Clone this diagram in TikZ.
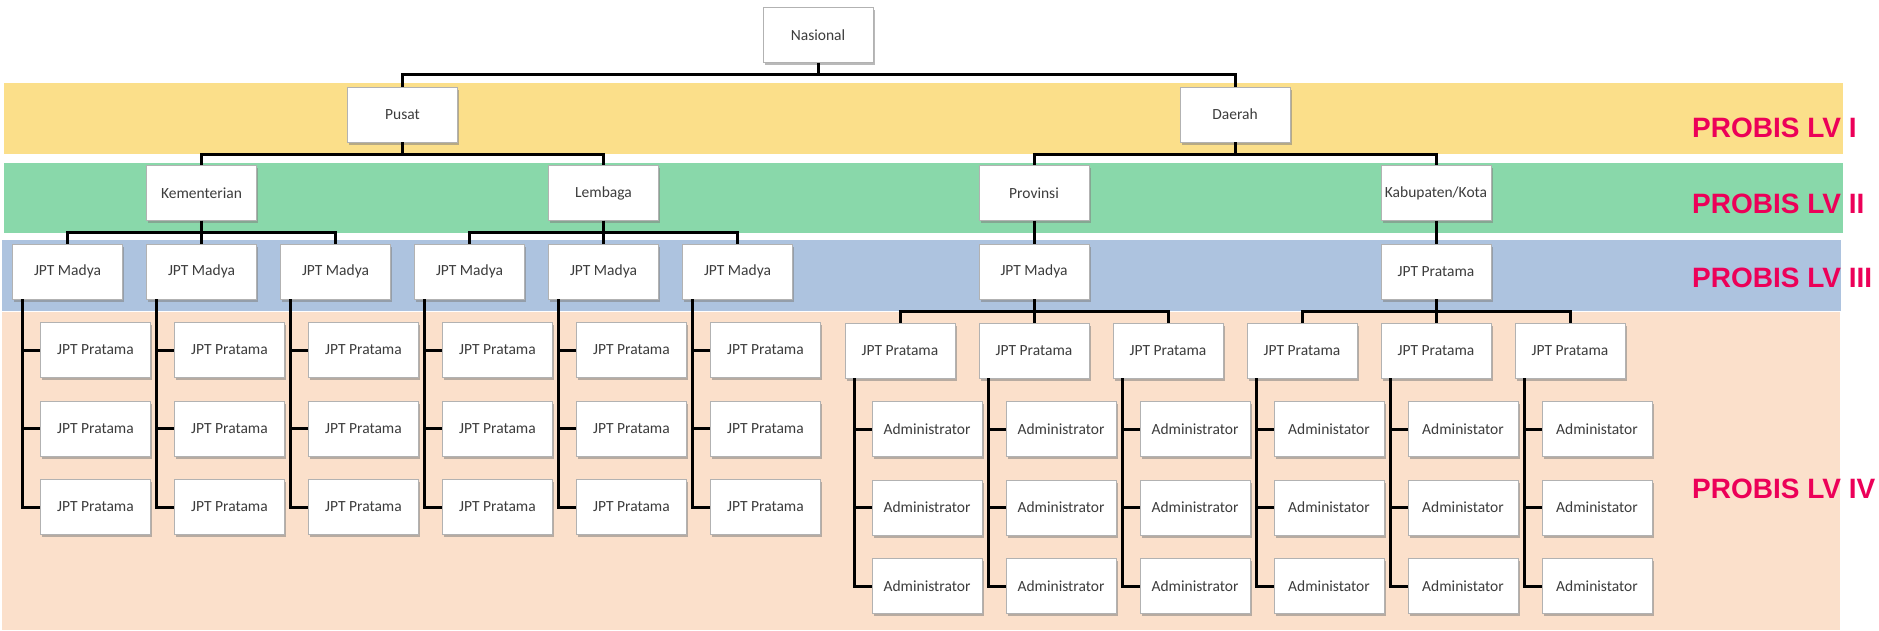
\documentclass[tikz,border=0pt]{standalone}
\usepackage{fontspec}
\usetikzlibrary{shadows}
\newfontfamily\boxfont{Carlito}
\newfontfamily\tagfont{Liberation Sans}
\definecolor{bandyellow}{RGB}{251,223,138}
\definecolor{bandgreen}{RGB}{137,216,170}
\definecolor{bandblue}{RGB}{173,195,223}
\definecolor{bandpeach}{RGB}{251,224,203}
\definecolor{textgray}{RGB}{60,60,60}
\definecolor{tagred}{RGB}{236,0,88}
\begin{document}
\begin{tikzpicture}[x=1pt,y=-1pt,
  unit/.style={rectangle, draw=black!30, line width=0.6pt, fill=white,
    minimum width=110pt, minimum height=55pt, inner sep=0pt,
    font=\boxfont\fontsize{15.5}{18}\selectfont, text=textgray,
    drop shadow={shadow xshift=1.5pt, shadow yshift=-2.5pt, fill=black!50, opacity=0.55}},
  link/.style={draw=black, line width=3pt},
  tag/.style={anchor=base west, inner sep=0pt, text=tagred,
    font=\tagfont\bfseries\fontsize{28}{32}\selectfont}]

\useasboundingbox (0,0) rectangle (1879,630);
\fill[white] (0,0) rectangle (1879,630);

% level bands
\fill[bandyellow] (4,83) rectangle (1843,154);
\fill[bandgreen]  (4,163) rectangle (1843,233);
\fill[bandblue]   (2,240) rectangle (1841,311);
\fill[bandpeach]  (2,312) rectangle (1840,630);

% top of the tree
\node[unit] (nas)    at (818,35)    {Nasional};
\node[unit] (pusat)  at (402.5,114.5) {Pusat};
\node[unit] (daerah) at (1235,114.5)  {Daerah};

\node[unit] (kem)  at (201.5,193) {Kementerian};
\node[unit] (lem)  at (603.5,193) {Lembaga};
\node[unit] (prov) at (1034,193)  {Provinsi};
\node[unit] (kab)  at (1436,193)  {Kabupaten/Kota};

% central-government branch
\foreach \i in {1,...,6} {
  \node[unit] (m\i) at ({67.5+134*(\i-1)},271.5) {JPT Madya};
  \foreach \r in {1,2,3} {
    \node[unit] (c\i\r) at ({95.5+134*(\i-1)},{271.5+78.5*\r}) {JPT Pratama};
  }
}

% regional branch
\node[unit] (pm) at (1034,271.5) {JPT Madya};
\node[unit] (kp) at (1436,271.5) {JPT Pratama};
\foreach \i in {1,2,3} {
  \node[unit] (r\i) at ({900+134*(\i-1)},350.5) {JPT Pratama};
  \foreach \r in {1,2,3} {
    \node[unit] (a\i\r) at ({927+134*(\i-1)},{350.5+78.5*\r}) {Administrator};
  }
}
\foreach \i in {4,5,6} {
  \node[unit] (r\i) at ({900+134*(\i-1)},350.5) {JPT Pratama};
  \foreach \r in {1,2,3} {
    \node[unit] (a\i\r) at ({927+134*(\i-1)},{350.5+78.5*\r}) {Administator};
  }
}

% tree connectors
\draw[link] (nas.south) -- ++(0,12) -| (pusat.north);
\draw[link] (nas.south) -- ++(0,12) -| (daerah.north);
\draw[link] (pusat.south) -- ++(0,12) -| (kem.north);
\draw[link] (pusat.south) -- ++(0,12) -| (lem.north);
\draw[link] (daerah.south) -- ++(0,12) -| (prov.north);
\draw[link] (daerah.south) -- ++(0,12) -| (kab.north);
\foreach \i in {1,2,3} \draw[link] (kem.south) -- ++(0,12) -| (m\i.north);
\foreach \i in {4,5,6} \draw[link] (lem.south) -- ++(0,12) -| (m\i.north);
\draw[link] (prov.south) -- (pm.north);
\draw[link] (kab.south) -- (kp.north);
\foreach \i in {1,2,3} \draw[link] (pm.south) -- ++(0,12) -| (r\i.north);
\foreach \i in {4,5,6} \draw[link] (kp.south) -- ++(0,12) -| (r\i.north);

% side rails to the stacked units
\foreach \i in {1,...,6} {
  \coordinate (s\i) at ([xshift=10pt]m\i.south west);
  \draw[link] (s\i) |- (c\i3.west);
  \draw[link] (s\i |- c\i1.west) -- (c\i1.west);
  \draw[link] (s\i |- c\i2.west) -- (c\i2.west);
  \coordinate (t\i) at ([xshift=10pt]r\i.south west);
  \draw[link] (t\i) |- (a\i3.west);
  \draw[link] (t\i |- a\i1.west) -- (a\i1.west);
  \draw[link] (t\i |- a\i2.west) -- (a\i2.west);
}

% level tags
\node[tag] (lv1) at (1692,137) {PROBIS LV I};
\node[tag] (lv2) at (1692,213) {PROBIS LV II};
\node[tag] (lv3) at (1692,287) {PROBIS LV III};
\node[tag] (lv4) at (1692,498) {PROBIS LV IV};
\end{tikzpicture}
\end{document}
